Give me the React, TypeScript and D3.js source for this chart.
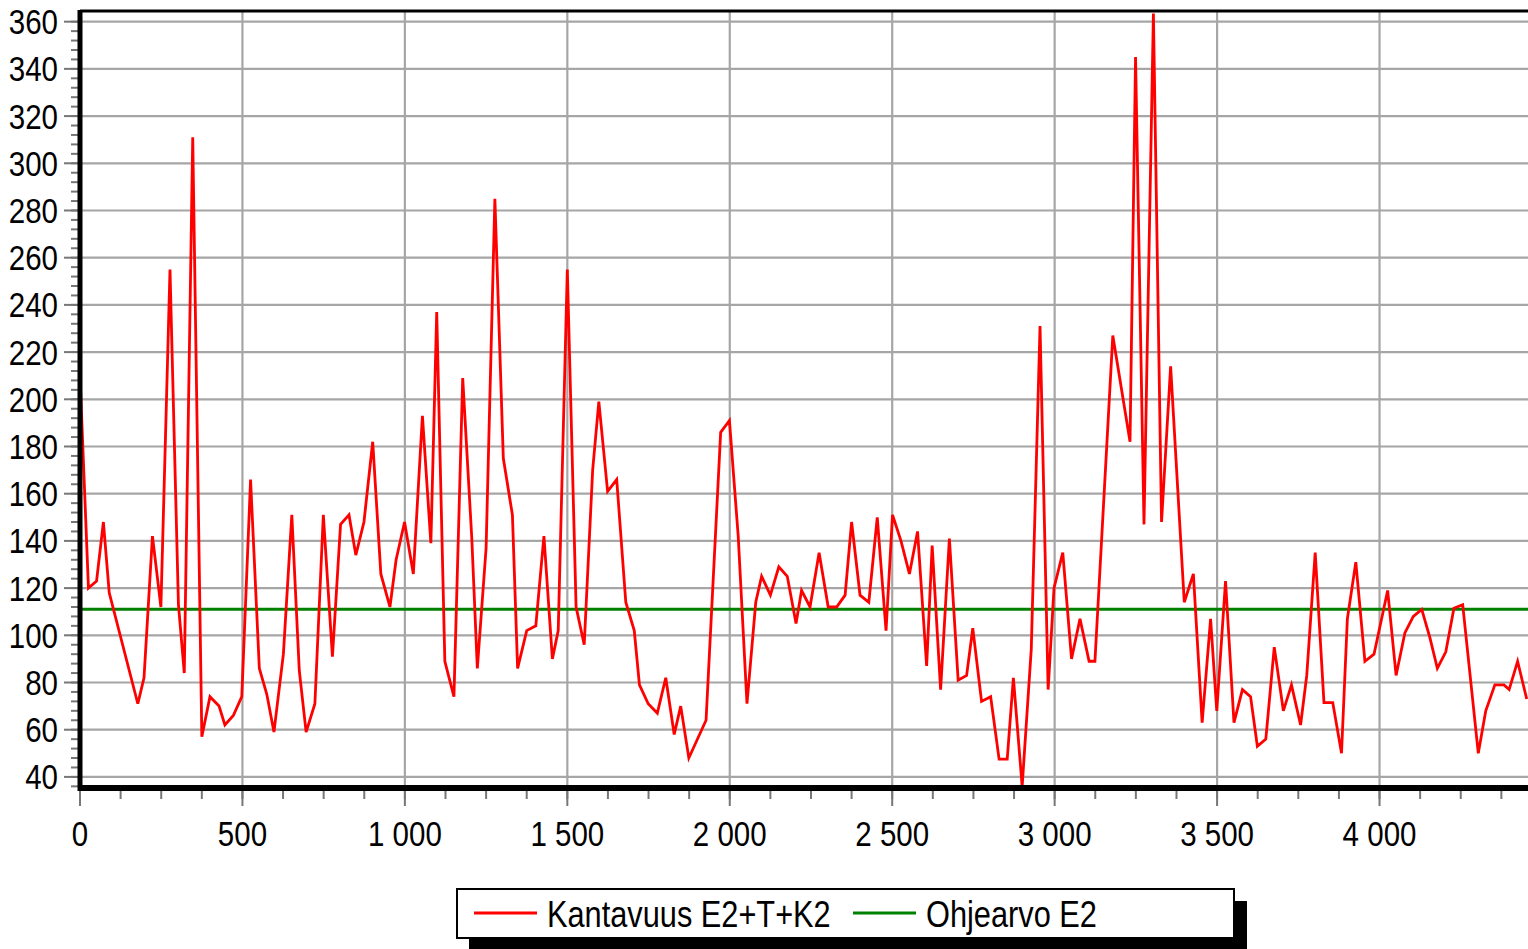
import * as d3 from "d3"

// distance along the road (m) and measured bearing capacity
const distances = [
  0, 26, 51, 72, 90, 178, 197, 223, 249, 277, 303, 321, 347, 375, 400, 428, 446, 472, 498, 525,
  552, 575, 597, 626, 652, 675, 696, 723, 749, 777, 802, 828, 849, 874, 901, 926, 954, 973, 999, 1026,
  1054, 1080, 1098, 1123, 1151, 1178, 1206, 1223, 1250, 1277, 1303, 1331, 1347, 1375, 1403, 1428, 1454, 1472, 1500, 1527,
  1552, 1578, 1597, 1624, 1652, 1680, 1706, 1722, 1749, 1777, 1803, 1829, 1849, 1874, 1927, 1972, 1999, 2026, 2053, 2080,
  2098, 2125, 2151, 2177, 2204, 2221, 2247, 2275, 2303, 2329, 2355, 2375, 2401, 2428, 2454, 2481, 2501, 2527, 2553, 2578,
  2606, 2623, 2649, 2676, 2703, 2729, 2748, 2775, 2803, 2829, 2854, 2873, 2900, 2928, 2955, 2980, 2998, 3025, 3052, 3078,
  3106, 3124, 3179, 3232, 3249, 3275, 3304, 3329, 3357, 3399, 3427, 3454, 3480, 3499, 3526, 3552, 3578, 3603, 3624, 3650,
  3676, 3704, 3729, 3757, 3776, 3802, 3829, 3856, 3883, 3901, 3927, 3955, 3983, 4025, 4051, 4078, 4104, 4130, 4155, 4178,
  4204, 4229, 4256, 4304, 4327, 4355, 4383, 4399, 4425, 4453,
]

const kantavuus = [
  210, 120, 123, 148, 118, 71, 82, 142, 112, 255, 113, 84, 311, 57, 74, 70, 62, 66, 74, 166,
  86, 75, 59, 92, 151, 85, 59, 71, 151, 91, 147, 151, 134, 148, 182, 126, 112, 132, 148, 126,
  193, 139, 237, 89, 74, 209, 141, 86, 137, 285, 175, 151, 86, 102, 104, 142, 90, 102, 255, 112,
  96, 170, 199, 161, 166, 114, 102, 79, 71, 67, 82, 58, 70, 48, 64, 186, 191, 142, 71, 114,
  125, 117, 129, 125, 105, 119, 112, 135, 112, 112, 117, 148, 117, 114, 150, 102, 151, 140, 126, 144,
  87, 138, 77, 141, 81, 83, 103, 72, 74, 47.5, 47.5, 82, 36, 94, 231, 77, 120, 135, 90, 107,
  89, 89, 227, 182, 345, 147, 363.5, 148, 214, 114, 126, 63, 107, 68, 123, 63, 77, 74, 53, 56,
  95, 68, 79, 62, 83, 135, 71.5, 71.5, 50, 107, 131, 89, 92, 119, 83, 101, 108, 111, 99, 86,
  93, 111.5, 113, 50, 68, 79, 79, 77, 89, 73,
]

const ohjearvo = 111

const xTicks = [0, 500, 1000, 1500, 2000, 2500, 3000, 3500, 4000]
const yTicks = [40, 60, 80, 100, 120, 140, 160, 180, 200, 220, 240, 260, 280, 300, 320, 340, 360]

const legendItems = [
  { label: "Kantavuus E2+T+K2", color: "#ff0000" },
  { label: "Ohjearvo E2", color: "#008000" },
]

const W = 1528
const H = 949
const FONT = "'Liberation Sans', Arial, sans-serif"
const NARROW = 0.82

export default function App() {
  const left = 80
  const right = W
  const top = 12
  const bottom = 788

  const x = d3.scaleLinear().domain([0, 4457]).range([left, right])
  const y = d3.scaleLinear().domain([35.3, 364.1]).range([bottom, top])

  const data = distances.map((d, i) => ({ d, v: kantavuus[i] }))
  const line = d3
    .line<{ d: number; v: number }>()
    .x((p) => x(p.d))
    .y((p) => y(p.v))

  const fmt = (v: number) => d3.format(",")(v).replace(/,/g, " ")

  const minorX = d3.range(0, 4457, 125)
  const minorY = d3.range(36, 364, 4)

  return (
    <svg
      width={W}
      height={H}
      style={{ position: "absolute", left: 0, top: 0, background: "#fff" }}
      fontFamily={FONT}
    >
      <defs>
        <clipPath id="plot">
          <rect x={left} y={top} width={right - left} height={bottom - top} />
        </clipPath>
      </defs>

      {/* grid */}
      {yTicks.map((t) => (
        <line key={"gy" + t} x1={left} x2={right} y1={y(t)} y2={y(t)} stroke="#a6a6a6" strokeWidth={2.2} />
      ))}
      {xTicks.slice(1).map((t) => (
        <line key={"gx" + t} x1={x(t)} x2={x(t)} y1={top} y2={bottom} stroke="#a6a6a6" strokeWidth={2.2} />
      ))}

      {/* guide value */}
      <line x1={left} x2={right} y1={y(ohjearvo)} y2={y(ohjearvo)} stroke="#008000" strokeWidth={3} />

      {/* measured line */}
      <path d={line(data) ?? ""} fill="none" stroke="#ff0000" strokeWidth={2.8} strokeLinejoin="miter" clipPath="url(#plot)" />

      {/* y ticks */}
      {minorY.map((t) => (
        <line key={"my" + t} x1={left - 9} x2={left} y1={y(t)} y2={y(t)} stroke="#777" strokeWidth={2} />
      ))}
      {yTicks.map((t) => (
        <line key={"ty" + t} x1={left - 16} x2={left} y1={y(t)} y2={y(t)} stroke="#777" strokeWidth={2} />
      ))}
      {yTicks.map((t) => (
        <text
          key={"ly" + t}
          transform={`translate(58,${y(t) + 12.5}) scale(${NARROW},1)`}
          textAnchor="end"
          fontSize={36}
          fill="#000"
        >
          {t}
        </text>
      ))}

      {/* x ticks */}
      {minorX.map((t) => (
        <line key={"mx" + t} x1={x(t)} x2={x(t)} y1={bottom} y2={bottom + 11} stroke="#777" strokeWidth={2} />
      ))}
      {xTicks.map((t) => (
        <line key={"tx" + t} x1={x(t)} x2={x(t)} y1={bottom} y2={bottom + 18} stroke="#777" strokeWidth={2} />
      ))}
      {xTicks.map((t) => (
        <text
          key={"lx" + t}
          transform={`translate(${x(t)},846) scale(${NARROW},1)`}
          textAnchor="middle"
          fontSize={36}
          fill="#000"
        >
          {fmt(t)}
        </text>
      ))}

      {/* frame */}
      <line x1={left} x2={right} y1={11} y2={11} stroke="#000" strokeWidth={3} />
      <line x1={left - 2} x2={right} y1={bottom} y2={bottom} stroke="#000" strokeWidth={6} />
      <line x1={left} x2={left} y1={10} y2={bottom + 3} stroke="#000" strokeWidth={5} />

      {/* legend */}
      <rect x={469} y={901} width={778} height={60} fill="#000" />
      <rect x={457} y={889} width={777} height={49} fill="#fff" stroke="#000" strokeWidth={2} />
      {legendItems.map((item, i) => {
        const lx = i === 0 ? 474 : 853
        return (
          <g key={item.label}>
            <line x1={lx} x2={lx + 63} y1={913} y2={913} stroke={item.color} strokeWidth={3} />
            <text
              transform={`translate(${lx + 73},927) scale(${NARROW},1)`}
              fontSize={37.5}
              fill="#000"
            >
              {item.label}
            </text>
          </g>
        )
      })}
    </svg>
  )
}
